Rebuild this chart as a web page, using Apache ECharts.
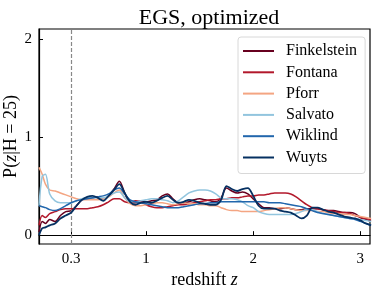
<!DOCTYPE html>
<html><head><meta charset="utf-8">
<script src="https://cdn.jsdelivr.net/npm/echarts@6/dist/echarts.min.js"></script>
<style>html,body{margin:0;padding:0;background:#fff}#c{width:374px;height:290px}</style>
</head><body><div id="c"></div>
<script>
var zGrid = [0.0,0.03,0.06,0.1,0.15,0.2,0.25,0.3,0.35,0.4,0.45,0.5,0.55,0.6,0.65,0.7,0.75,0.8,0.85,0.9,0.95,1.0,1.05,1.1,1.15,1.2,1.25,1.3,1.35,1.4,1.45,1.5,1.55,1.6,1.65,1.7,1.75,1.8,1.85,1.9,1.95,2.0,2.05,2.1,2.15,2.2,2.25,2.3,2.35,2.4,2.45,2.5,2.55,2.6,2.65,2.7,2.75,2.8,2.85,2.9,2.95,3.0,3.05,3.1];
var finkelstein = [0.03,0.14,0.12,0.16,0.14,0.2,0.24,0.25,0.3,0.36,0.37,0.38,0.39,0.37,0.4,0.47,0.55,0.43,0.33,0.33,0.35,0.34,0.35,0.36,0.4,0.42,0.37,0.33,0.33,0.34,0.36,0.37,0.36,0.35,0.34,0.38,0.48,0.45,0.43,0.44,0.42,0.37,0.32,0.28,0.28,0.27,0.27,0.28,0.27,0.26,0.26,0.27,0.27,0.27,0.26,0.25,0.25,0.24,0.23,0.23,0.22,0.18,0.16,0.14];
var fontana = [0.1,0.2,0.18,0.22,0.24,0.26,0.27,0.27,0.27,0.27,0.27,0.28,0.29,0.31,0.34,0.37,0.37,0.34,0.33,0.35,0.34,0.31,0.29,0.28,0.28,0.29,0.3,0.31,0.31,0.32,0.33,0.34,0.35,0.36,0.36,0.37,0.37,0.38,0.38,0.39,0.4,0.4,0.41,0.41,0.42,0.43,0.43,0.43,0.42,0.39,0.35,0.31,0.28,0.27,0.26,0.25,0.24,0.23,0.23,0.22,0.2,0.18,0.17,0.16];
var pforr = [0.69,0.62,0.52,0.46,0.45,0.43,0.41,0.39,0.37,0.36,0.36,0.36,0.36,0.37,0.39,0.43,0.46,0.38,0.32,0.3,0.3,0.31,0.32,0.33,0.33,0.32,0.31,0.32,0.33,0.32,0.32,0.31,0.31,0.3,0.3,0.28,0.26,0.25,0.25,0.24,0.24,0.24,0.24,0.25,0.26,0.27,0.28,0.28,0.27,0.26,0.25,0.25,0.25,0.24,0.24,0.23,0.22,0.22,0.21,0.21,0.2,0.19,0.18,0.17];
var salvato = [0.3,0.6,0.62,0.42,0.35,0.33,0.33,0.33,0.35,0.37,0.38,0.38,0.38,0.38,0.4,0.43,0.44,0.38,0.34,0.34,0.35,0.36,0.37,0.37,0.36,0.35,0.33,0.35,0.39,0.43,0.45,0.46,0.46,0.45,0.42,0.38,0.37,0.37,0.36,0.34,0.3,0.28,0.24,0.22,0.21,0.21,0.21,0.21,0.21,0.22,0.24,0.26,0.26,0.24,0.22,0.21,0.2,0.19,0.18,0.17,0.17,0.16,0.15,0.14];
var wiklind = [0.3,0.29,0.28,0.26,0.25,0.27,0.3,0.33,0.35,0.36,0.37,0.38,0.39,0.4,0.42,0.46,0.48,0.42,0.36,0.34,0.33,0.32,0.31,0.3,0.29,0.28,0.28,0.28,0.29,0.3,0.31,0.32,0.32,0.33,0.33,0.34,0.34,0.34,0.34,0.34,0.34,0.34,0.34,0.34,0.33,0.33,0.33,0.32,0.31,0.3,0.29,0.27,0.25,0.23,0.22,0.21,0.2,0.19,0.18,0.17,0.16,0.14,0.12,0.1];
var wuyts = [0.0,0.07,0.08,0.1,0.12,0.17,0.2,0.23,0.3,0.36,0.39,0.4,0.38,0.35,0.4,0.46,0.52,0.43,0.34,0.31,0.33,0.34,0.33,0.35,0.38,0.4,0.36,0.33,0.34,0.36,0.35,0.33,0.32,0.31,0.31,0.36,0.5,0.47,0.45,0.47,0.48,0.4,0.3,0.27,0.27,0.27,0.25,0.24,0.23,0.2,0.17,0.2,0.28,0.28,0.26,0.24,0.23,0.21,0.19,0.18,0.17,0.15,0.12,0.1];
var seriesNames = ['Finkelstein','Fontana','Pforr','Salvato','Wiklind','Wuyts'];
var seriesValues = [finkelstein, fontana, pforr, salvato, wiklind, wuyts];
var seriesColors = ['#67001f','#b2182b','#f4a582','#92c5de','#2166ac','#053061'];
var xTicks = [0.3, 1, 2, 3];
var yTicks = [0, 1, 2];
var cutZ = 0.3;

var FONT = '"Liberation Serif", "DejaVu Serif", serif';
var series = seriesNames.map(function(n, i){
  var s = {
    name: n, type: 'line', showSymbol: false, symbol: 'none', smooth: 0.3,
    data: zGrid.map(function(z, k){ return [z, seriesValues[i][k]]; }),
    lineStyle: {color: seriesColors[i], width: i === 5 ? 1.8 : 1.5},
    itemStyle: {color: seriesColors[i]},
    z: 2 + i, animation: false
  };
  if (i === 0) {
    s.markLine = {silent: true, symbol: 'none', animation: false, label: {show: false},
      lineStyle: {color: '#888', type: [4, 2], width: 1.2},
      data: [{xAxis: cutZ}]};
  }
  return s;
});

var chart = echarts.init(document.getElementById('c'));
chart.setOption({
  animation: false,
  title: {text: 'EGS, optimized', left: 204, textAlign: 'center', top: 2,
    textStyle: {fontFamily: FONT, fontSize: 22, fontWeight: 'normal', color: '#000'}},
  grid: {left: 39, right: 4, top: 29, bottom: 46, show: true, borderColor: '#000', borderWidth: 1.2,
    containLabel: false, outerBoundsMode: 'none'},
  legend: {
    orient: 'vertical', left: 238, top: 37, padding: [6, 8, 8, 5],
    icon: 'rect', itemWidth: 31, itemHeight: 2, itemGap: 5.3,
    backgroundColor: '#fff', borderColor: '#d8d8d8', borderWidth: 1, borderRadius: 3,
    textStyle: {fontFamily: FONT, fontSize: 16, lineHeight: 16, color: '#000', padding: [0, 0, 0, 7]},
    data: seriesNames
  },
  xAxis: {
    type: 'value', min: 0, max: 3.09,
    axisLine: {show: true, lineStyle: {color: '#000', width: 1.2}},
    axisTick: {show: true, inside: true, length: 4, lineStyle: {color: '#000'}, customValues: xTicks},
    axisLabel: {fontFamily: FONT, fontSize: 15, color: '#000', margin: 8, customValues: xTicks,
      formatter: function(v){ return String(v); }},
    splitLine: {show: false},
    name: 'redshift {i|z}', nameLocation: 'middle', nameGap: 27, nameMoveOverlap: false,
    nameTextStyle: {fontFamily: FONT, fontSize: 18, color: '#000',
      rich: {i: {fontFamily: FONT, fontStyle: 'italic', fontSize: 18, color: '#000'}}}
  },
  yAxis: {
    type: 'value', min: -0.09, max: 2.1,
    axisLine: {show: true, lineStyle: {color: '#000', width: 1.2}},
    axisTick: {show: true, inside: true, length: 4, lineStyle: {color: '#000'}, customValues: yTicks},
    axisLabel: {fontFamily: FONT, fontSize: 15, color: '#000', margin: 7, customValues: yTicks},
    splitLine: {show: false},
    name: 'P({i|z}|H = 25)', nameLocation: 'middle', nameGap: 19, nameRotate: 90, nameMoveOverlap: false,
    nameTextStyle: {fontFamily: FONT, fontSize: 18, color: '#000',
      rich: {i: {fontFamily: FONT, fontStyle: 'italic', fontSize: 18, color: '#000'}}}
  },
  series: series
});
</script></body></html>
